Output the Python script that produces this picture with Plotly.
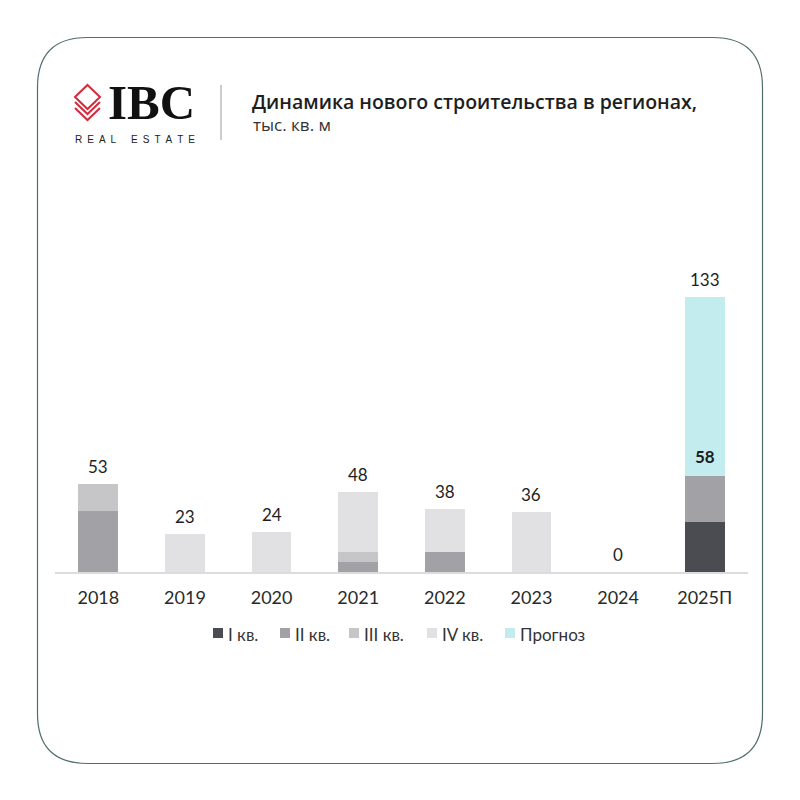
import plotly.graph_objects as go

# ---------------- data ----------------
years = ["2018", "2019", "2020", "2021", "2022", "2023", "2024", "2025П"]
q1 = [0, 0, 0, 0, 0, 0, 0, 30]
q2 = [37, 0, 0, 6, 12, 0, 0, 28]
q3 = [16, 0, 0, 6, 0, 0, 0, 0]
q4 = [0, 23, 24, 36, 26, 36, 0, 0]
forecast = [0, 0, 0, 0, 0, 0, 0, 108]
total_labels = ["53", "23", "24", "48", "38", "36", "0", "133"]
fact_label_2025 = "58"

series_names = ["I кв.", "II кв.", "III кв.", "IV кв.", "Прогноз"]
series_values = [q1, q2, q3, q4, forecast]
series_colors = ["#4b4c51", "#a2a2a6", "#c6c6c8", "#e1e1e3", "#c3ecee"]

FONT = "Lato"
TFONT = "Open Sans"
TXT = "#1e1e1e"

# plot-area pixel box (used to place decorations in paper coords)
L, R, T, B = 55, 748, 280, 572


def px(x):
    return (x - L) / (R - L)


def py(y):
    return (B - y) / (B - T)


fig = go.Figure()
for name, vals, col in zip(series_names, series_values, series_colors):
    fig.add_trace(go.Bar(x=years, y=vals, name=name, marker_color=col,
                         marker_line_width=0, showlegend=False))

totals = [a + b + c + d + e for a, b, c, d, e in zip(*series_values)]
annotations = []
for i, (tot, lab) in enumerate(zip(totals, total_labels)):
    annotations.append(dict(x=i, y=tot, xref="x", yref="y", text=lab,
                            showarrow=False, yanchor="bottom", yshift=5,
                            font=dict(family=FONT, size=17, color=TXT)))
# bold fact label for 2025
annotations.append(dict(x=len(years) - 1, y=q1[-1] + q2[-1], xref="x", yref="y",
                        text="<b>" + fact_label_2025 + "</b>", showarrow=False,
                        yanchor="bottom", yshift=7,
                        font=dict(family=FONT, size=17, color=TXT)))

# title / subtitle
annotations.append(dict(x=px(250), y=py(101), xref="paper", yref="paper",
                        text="Динамика нового строительства в регионах,",
                        showarrow=False, xanchor="left", yanchor="middle",
                        font=dict(family=TFONT, size=19.5, color=TXT, weight=600)))
annotations.append(dict(x=px(251), y=py(124), xref="paper", yref="paper",
                        text="тыс. кв. м", showarrow=False, xanchor="left",
                        yanchor="middle",
                        font=dict(family=TFONT, size=17, color="#333333")))
# logo text
annotations.append(dict(x=px(106), y=py(102), xref="paper", yref="paper",
                        text="<b>IBC</b>", showarrow=False, xanchor="left",
                        yanchor="middle",
                        font=dict(family="Liberation Serif", size=49, color="#111111")))
annotations.append(dict(x=px(135), y=py(139), xref="paper", yref="paper",
                        text="R\u2002E\u2002A\u2002L\u2003\u2002E\u2002S\u2002T\u2002A\u2002T\u2002E",
                        showarrow=False, xanchor="center", yanchor="middle",
                        font=dict(family="Liberation Sans", size=10, color="#222222")))

# manual legend
legend_sq_x = [213, 280, 349, 427, 505]
shapes = []
for name, col, sx in zip(series_names, series_colors, legend_sq_x):
    shapes.append(dict(type="rect", xref="paper", yref="paper",
                       x0=px(sx), x1=px(sx + 10), y0=py(638), y1=py(628),
                       fillcolor=col, line_width=0))
    annotations.append(dict(x=px(sx + 13), y=py(634), xref="paper", yref="paper",
                            text=name, showarrow=False, xanchor="left",
                            yanchor="middle",
                            font=dict(family=FONT, size=17, color="#333333")))

# rounded border
x0b, x1b, y0b, y1b, r = 37.5, 762.5, 37.5, 763.5, 50
path = (f"M {px(x0b + r)},{py(y0b)} L {px(x1b - r)},{py(y0b)} "
        f"Q {px(x1b)},{py(y0b)} {px(x1b)},{py(y0b + r)} "
        f"L {px(x1b)},{py(y1b - r)} "
        f"Q {px(x1b)},{py(y1b)} {px(x1b - r)},{py(y1b)} "
        f"L {px(x0b + r)},{py(y1b)} "
        f"Q {px(x0b)},{py(y1b)} {px(x0b)},{py(y1b - r)} "
        f"L {px(x0b)},{py(y0b + r)} "
        f"Q {px(x0b)},{py(y0b)} {px(x0b + r)},{py(y0b)} Z")
shapes.append(dict(type="path", xref="paper", yref="paper", path=path,
                   line=dict(color="#4f6d6d", width=1.2), layer="below"))

# separator line in header
shapes.append(dict(type="line", xref="paper", yref="paper",
                   x0=px(221), x1=px(221), y0=py(85), y1=py(140),
                   line=dict(color="#9a9a9a", width=1)))

# logo icon (stacked diamonds)
red = "#d42a3c"
cx, lx, rx = 87.5, 75, 100
icon_paths = [
    f"M {px(cx)},{py(85)} L {px(rx)},{py(97)} L {px(cx)},{py(109)} L {px(lx)},{py(97)} Z",
    f"M {px(lx)},{py(102)} L {px(cx)},{py(114)} L {px(rx)},{py(102)}",
    f"M {px(lx)},{py(108)} L {px(cx)},{py(120)} L {px(rx)},{py(108)}",
]
for p in icon_paths:
    shapes.append(dict(type="path", xref="paper", yref="paper", path=p,
                       line=dict(color=red, width=2)))

fig.update_layout(
    width=800, height=800,
    margin=dict(l=L, r=800 - R, t=T, b=800 - B, pad=0),
    paper_bgcolor="white", plot_bgcolor="white",
    barmode="stack", bargap=0.54,
    annotations=annotations, shapes=shapes,
    font=dict(family=FONT, color=TXT),
    xaxis=dict(type="category", range=[-0.5, len(years) - 0.5],
               showgrid=False, showline=True,
               linecolor="#dcdcdc", linewidth=2,
               ticks="outside", ticklen=8, tickcolor="rgba(0,0,0,0)",
               tickfont=dict(family=FONT, size=18, color="#2a2a2a"),
               fixedrange=True),
    yaxis=dict(range=[0, 176], visible=False, showgrid=False, zeroline=False,
               fixedrange=True),
)

fig.write_html("out.html")
